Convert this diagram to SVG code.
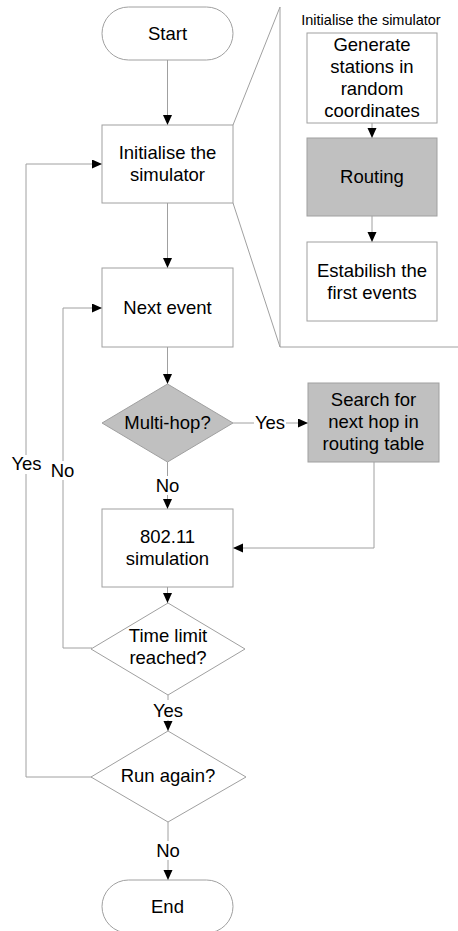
<svg xmlns="http://www.w3.org/2000/svg" width="458" height="931" viewBox="0 0 458 931">
<defs>
<marker id="ah" markerUnits="userSpaceOnUse" markerWidth="10" markerHeight="10" refX="10" refY="4.5" orient="auto">
<path d="M0,0 L10,4.5 L0,9 z" fill="#000"/>
</marker>
<style>
.n{fill:#fff;stroke:#a0a0a0;stroke-width:1}
.g{fill:#c0c0c0;stroke:#a0a0a0;stroke-width:1}
.c{fill:none;stroke:#a0a0a0;stroke-width:1}
.a{marker-end:url(#ah)}
text{font-family:"Liberation Sans",Arial,sans-serif;font-size:18.5px;fill:#000;text-anchor:middle}
.t{font-size:14.5px}
.bg{fill:#fff}
</style>
</defs>
<rect width="458" height="931" fill="#fff"/>
<g id="inset">
<path class="c" d="M233,125 L280,7 L280,347 L458,347 M233,203 L280,347"/>
<text class="t" x="371" y="24.5">Initialise the simulator</text>
</g>
<g id="connectors">
<path class="c a" d="M167.5,60 V125"/>
<path class="c a" d="M167.5,203 V268"/>
<path class="c a" d="M167.5,347 V384"/>
<path class="c a" d="M233,423 H308"/>
<rect class="bg" x="254" y="413" width="32" height="20"/>
<text x="270" y="429">Yes</text>
<path class="c a" d="M167.5,462 V509"/>
<rect class="bg" x="155" y="476" width="25" height="19"/>
<text x="167.5" y="492">No</text>
<path class="c a" d="M374,462 V548 H233"/>
<path class="c a" d="M167.5,587 V603"/>
<path class="c a" d="M92,648 H63 V308 H102"/>
<rect class="bg" x="51" y="461" width="24" height="19"/>
<text x="62.5" y="477">No</text>
<path class="c a" d="M168,695 V731"/>
<rect class="bg" x="152" y="700" width="32" height="20"/>
<text x="168" y="717">Yes</text>
<path class="c a" d="M92,777 H26 V164 H102"/>
<rect class="bg" x="10" y="455" width="33" height="19"/>
<text x="26.5" y="470">Yes</text>
<path class="c a" d="M168,822 V880"/>
<rect class="bg" x="155" y="841" width="26" height="19"/>
<text x="168" y="857">No</text>
<path class="c a" d="M372,123 V138"/>
<path class="c a" d="M372,216 V242"/>
</g>
<g id="start">
<rect class="n" x="102" y="7" width="131" height="53" rx="26.5"/>
<text x="167.5" y="39.5">Start</text>
</g>
<g id="init">
<rect class="n" x="102" y="125" width="131" height="78"/>
<text x="167.5" y="159">Initialise the</text>
<text x="167.5" y="181">simulator</text>
</g>
<g id="next">
<rect class="n" x="102" y="268" width="131" height="79"/>
<text x="167.5" y="314">Next event</text>
</g>
<g id="multihop">
<path class="g" d="M167.5,384 L233,423 L167.5,462 L102,423 z"/>
<text x="167.5" y="429">Multi-hop?</text>
</g>
<g id="search">
<rect class="g" x="308" y="383" width="131" height="79"/>
<text x="373.5" y="406">Search for</text>
<text x="373.5" y="428">next hop in</text>
<text x="373.5" y="450">routing table</text>
</g>
<g id="sim">
<rect class="n" x="102" y="509" width="131" height="78"/>
<text x="167.5" y="543">802.11</text>
<text x="167.5" y="565">simulation</text>
</g>
<g id="timelimit">
<path class="n" d="M168,603 L245,649 L168,695 L91,649 z"/>
<text x="168" y="642">Time limit</text>
<text x="168" y="664">reached?</text>
</g>
<g id="runagain">
<path class="n" d="M168,731 L246,777 L168,822 L91,777 z"/>
<text x="168" y="782">Run again?</text>
</g>
<g id="end">
<rect class="n" x="102" y="880" width="131" height="53" rx="26.5"/>
<text x="167.5" y="913">End</text>
</g>
<g id="generate">
<rect class="n" x="307" y="33" width="130" height="90"/>
<text x="372" y="51">Generate</text>
<text x="372" y="73">stations in</text>
<text x="372" y="95">random</text>
<text x="372" y="117">coordinates</text>
</g>
<g id="routing">
<rect class="g" x="307" y="138" width="130" height="78"/>
<text x="372" y="183">Routing</text>
</g>
<g id="establish">
<rect class="n" x="307" y="242" width="130" height="79"/>
<text x="372" y="277">Estabilish the</text>
<text x="372" y="299">first events</text>
</g>
</svg>
